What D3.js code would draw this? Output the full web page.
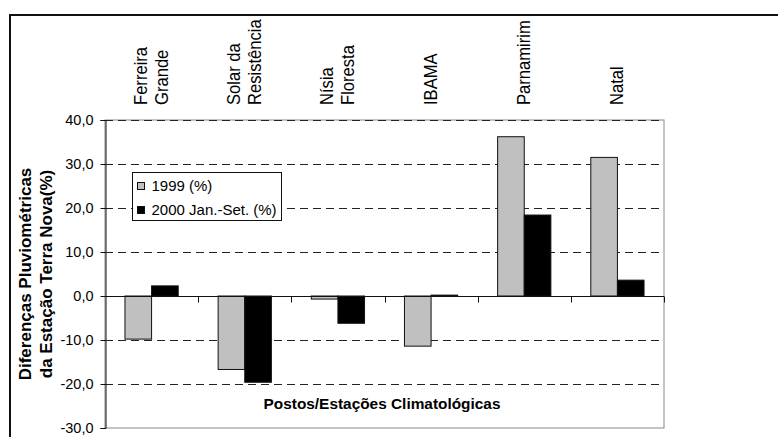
<!DOCTYPE html>
<html>
<head>
<meta charset="utf-8">
<script src="https://cdn.jsdelivr.net/npm/d3@7"></script>
<style>
  html, body { margin: 0; padding: 0; background: #fff; }
  svg { display: block; }
  text { font-family: "Liberation Sans", Arial, Helvetica, sans-serif; fill: #000; }
</style>
</head>
<body>
<svg id="chart" width="778" height="437"></svg>
<script>
// ---- data ----
const categories = ["Ferreira\nGrande", "Solar da\nResistência", "Nísia\nFloresta", "IBAMA", "Parnamirim", "Natal"];
const series1999 = [-9.8, -16.7, -0.7, -11.4, 36.2, 31.5];
const series2000 = [2.3, -19.6, -6.2, 0.2, 18.4, 3.6];
const seriesNames = ["1999 (%)", "2000 Jan.-Set. (%)"];
const yTicks = [-30, -20, -10, 0, 10, 20, 30, 40];
const yTitleLines = ["Diferenças Pluviométricas", "da Estação Terra Nova(%)"];
const xTitle = "Postos/Estações Climatológicas";

const svg = d3.select("#chart");
const plot = { left: 105, right: 664, top: 120, bottom: 428 };

// outer chart border
svg.append("rect").attr("x", 10).attr("y", 15).attr("width", 800).attr("height", 500)
  .attr("fill", "#fff").attr("stroke", "#111").attr("stroke-width", 2);

const x = d3.scaleBand().domain(categories).range([plot.left, plot.right]).padding(0);
const y = d3.scaleLinear().domain([-30, 40]).range([plot.bottom, plot.top]);
const bw = x.bandwidth() / 3.5;
const x1 = d3.scaleBand().domain(seriesNames).range([0.75 * bw, 2.75 * bw]).padding(0);

// plot area border (gray)
svg.append("rect").attr("x", plot.left).attr("y", plot.top)
  .attr("width", plot.right - plot.left).attr("height", plot.bottom - plot.top)
  .attr("fill", "#fff").attr("stroke", "#888").attr("stroke-width", 1);

// dashed gridlines
svg.append("g").selectAll("line")
  .data(yTicks.filter(t => t !== 0 && t !== -30))
  .join("line")
  .attr("x1", plot.left).attr("x2", plot.right)
  .attr("y1", d => Math.round(y(d)) + 0.5).attr("y2", d => Math.round(y(d)) + 0.5)
  .attr("stroke", "#222").attr("stroke-width", 1).attr("stroke-dasharray", "8,5");

// bars
const colors = ["#c0c0c0", "#000000"];
const data = categories.map((c, i) => ({ cat: c, vals: [series1999[i], series2000[i]] }));
const groups = svg.append("g").selectAll("g").data(data).join("g")
  .attr("transform", d => `translate(${x(d.cat)},0)`);
groups.selectAll("rect")
  .data(d => d.vals.map((v, j) => ({ v, name: seriesNames[j], j })))
  .join("rect")
  .attr("x", d => x1(d.name))
  .attr("width", x1.bandwidth())
  .attr("y", d => y(Math.max(0, d.v)))
  .attr("height", d => Math.abs(y(d.v) - y(0)))
  .attr("fill", d => colors[d.j])
  .attr("stroke", "#111").attr("stroke-width", 1);

// zero axis line with ticks downward at category boundaries
const zeroY = Math.round(y(0)) + 0.5;
svg.append("line").attr("x1", plot.left).attr("x2", plot.right)
  .attr("y1", zeroY).attr("y2", zeroY).attr("stroke", "#111").attr("stroke-width", 1);
const bounds = categories.slice(1).map(c => x(c)).concat([plot.right]);
svg.append("g").selectAll("line").data(bounds).join("line")
  .attr("x1", d => Math.round(d) + 0.5).attr("x2", d => Math.round(d) + 0.5)
  .attr("y1", zeroY).attr("y2", zeroY + 6)
  .attr("stroke", "#111").attr("stroke-width", 1);

// y axis
const yAxis = d3.axisLeft(y).tickValues(yTicks).tickSize(5).tickPadding(7)
  .tickFormat(d => d3.format(".1f")(d).replace(".", ",").replace("\u2212", "-"));
const gy = svg.append("g").attr("transform", `translate(${plot.left + 0.5},0)`).call(yAxis);
gy.select(".domain").attr("stroke", "#111");
gy.selectAll(".tick line").attr("stroke", "#111");
gy.selectAll(".tick text").attr("font-size", 14.5).attr("font-family", "Liberation Sans, Arial, sans-serif")
  .attr("fill", "#000");

// category labels (rotated, two lines)
const catG = svg.append("g");
categories.forEach(c => {
  const lines = c.split("\n");
  const cx = x(c) + x.bandwidth() / 2;
  lines.forEach((ln, i) => {
    const bx = cx + 5.5 + (i - (lines.length - 1) / 2) * 21;
    catG.append("text")
      .attr("transform", `translate(${bx},105) scale(1.1,1) rotate(-90)`)
      .attr("text-anchor", "start")
      .attr("font-size", 16.6)
      .text(ln);
  });
});

// y title
yTitleLines.forEach((ln, i) => {
  svg.append("text")
    .attr("transform", `translate(${30.5 + i * 21},274) rotate(-90)`)
    .attr("text-anchor", "middle")
    .attr("font-size", 17).attr("font-weight", "bold")
    .text(ln);
});

// x title
svg.append("text").attr("x", 382).attr("y", 408.5)
  .attr("text-anchor", "middle").attr("font-size", 15.4).attr("font-weight", "bold")
  .text(xTitle);

// legend
const lg = svg.append("g");
lg.append("rect").attr("x", 132.5).attr("y", 172.5).attr("width", 149).attr("height", 48)
  .attr("fill", "#fff").attr("stroke", "#111").attr("stroke-width", 1);
seriesNames.forEach((n, i) => {
  const cy = 186 + i * 24;
  lg.append("rect").attr("x", 137.5).attr("y", cy - 3.5).attr("width", 7).attr("height", 7)
    .attr("fill", colors[i]).attr("stroke", "#111").attr("stroke-width", 1);
  lg.append("text").attr("x", 151.5).attr("y", cy).attr("dy", "0.36em")
    .attr("font-size", 15).text(n);
});
</script>
</body>
</html>
